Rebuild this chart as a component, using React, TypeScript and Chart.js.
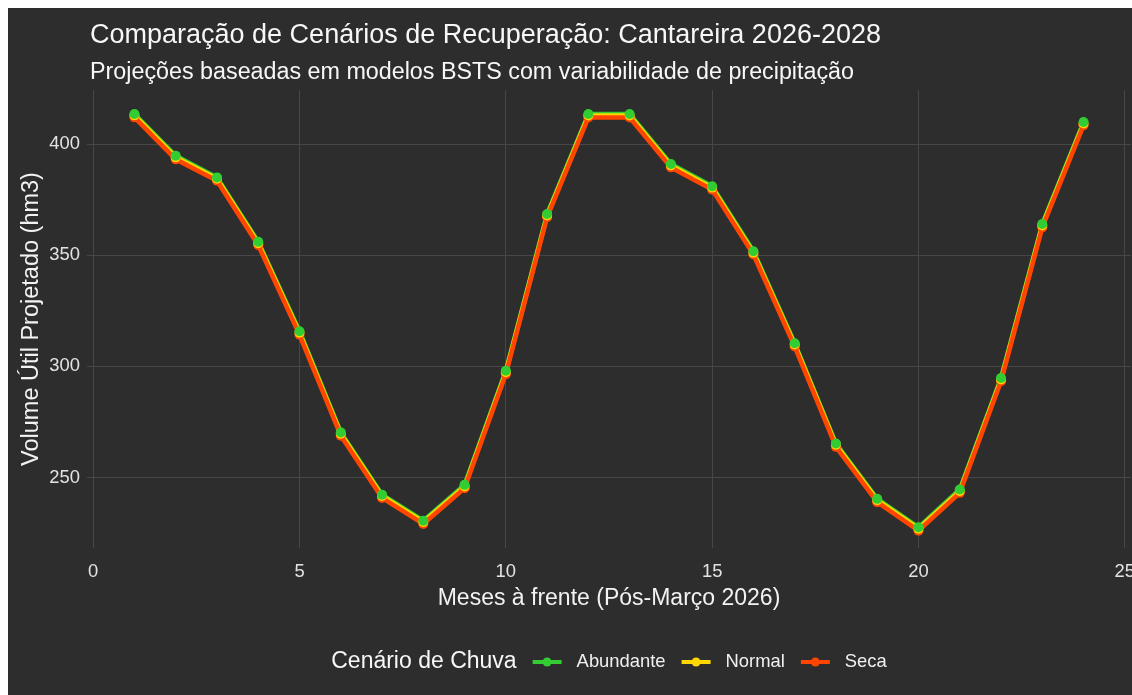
import React, { useEffect, useRef } from "react";
import { Chart, registerables } from "chart.js";

Chart.register(...registerables);

const months = [1, 2, 3, 4, 5, 6, 7, 8, 9, 10, 11, 12, 13, 14, 15, 16, 17, 18, 19, 20, 21, 22, 23, 24];
const abundante = [413.5, 394.7, 385.0, 356.0, 315.8, 270.3, 242.3, 230.6, 246.7, 298.0, 368.5, 413.5, 413.5, 391.0, 381.0, 351.8, 310.4, 265.3, 240.4, 227.6, 244.6, 294.8, 364.0, 409.9];
const normal = [412.9, 394.0, 384.4, 355.4, 315.1, 269.7, 241.7, 230.0, 246.0, 297.4, 367.9, 412.8, 412.8, 390.4, 380.4, 351.1, 309.8, 264.7, 239.8, 227.0, 243.9, 294.1, 363.4, 409.2];
const seca = [412.0, 393.1, 383.5, 354.5, 314.2, 268.8, 240.8, 229.1, 245.2, 296.5, 367.1, 411.9, 411.9, 389.5, 379.5, 350.3, 308.9, 263.8, 238.9, 226.1, 243.1, 293.3, 362.5, 408.4];

const seriesNames = ["Abundante", "Normal", "Seca"];
const seriesColors = ["#32CD32", "#FFD700", "#FF4500"];
const xTicks = [0, 5, 10, 15, 20, 25];
const yTicks = [250, 300, 350, 400];

const titleText = "Comparação de Cenários de Recuperação: Cantareira 2026-2028";
const subtitleText = "Projeções baseadas em modelos BSTS com variabilidade de precipitação";
const xTitle = "Meses à frente (Pós-Março 2026)";
const yTitle = "Volume Útil Projetado (hm3)";
const legendTitle = "Cenário de Chuva";

const FONT = "'Liberation Sans', Arial, sans-serif";
const BG = "#2d2d2d";
const GRID = "#474747";

export default function App() {
  const ref = useRef<HTMLCanvasElement | null>(null);

  useEffect(() => {
    const canvas = ref.current;
    if (!canvas) return;
    const seriesData = [abundante, normal, seca];

    const decor = {
      id: "decor",
      beforeDraw(chart: any) {
        const ctx = chart.ctx;
        ctx.save();
        ctx.fillStyle = BG;
        ctx.fillRect(0, 0, chart.width, chart.height);
        ctx.restore();
      },
      afterDraw(chart: any) {
        const ctx = chart.ctx;
        const left = chart.chartArea.left;
        ctx.save();
        ctx.textBaseline = "middle";
        ctx.textAlign = "left";
        ctx.fillStyle = "#f7f7f7";
        ctx.font = `27px ${FONT}`;
        ctx.fillText(titleText, left + 3, 28);
        ctx.font = `23.3px ${FONT}`;
        ctx.fillText(subtitleText, left + 3, 65);

        // legend
        const titleFont = `23px ${FONT}`;
        const labelFont = `18.4px ${FONT}`;
        const sw = 29;
        const gapTS = 16;
        const gapSL = 15;
        const gapLS = 16;
        ctx.font = titleFont;
        const tW = ctx.measureText(legendTitle).width;
        ctx.font = labelFont;
        const lW = seriesNames.map((n) => ctx.measureText(n).width);
        let total = tW + gapTS;
        lW.forEach((w, i) => {
          total += sw + gapSL + w + (i < lW.length - 1 ? gapLS : 0);
        });
        const cy = 654;
        let x = 601 - total / 2;
        ctx.font = titleFont;
        ctx.fillStyle = "#f7f7f7";
        ctx.fillText(legendTitle, x, cy);
        x += tW + gapTS;
        seriesNames.forEach((n, i) => {
          ctx.strokeStyle = seriesColors[i];
          ctx.lineWidth = 4;
          ctx.beginPath();
          ctx.moveTo(x, cy);
          ctx.lineTo(x + sw, cy);
          ctx.stroke();
          ctx.fillStyle = seriesColors[i];
          ctx.beginPath();
          ctx.arc(x + sw / 2, cy, 4.5, 0, Math.PI * 2);
          ctx.fill();
          x += sw + gapSL;
          ctx.font = labelFont;
          ctx.fillStyle = "#f0f0f0";
          ctx.fillText(n, x, cy);
          x += lW[i] + gapLS;
        });
        ctx.restore();
      },
    };

    // lines: Seca drawn on top of the lines; points: Abundante drawn on top of points
    const lineSets = seriesNames.map((name, i) => ({
      label: name,
      data: months.map((m, j) => ({ x: m, y: seriesData[i][j] })),
      borderColor: seriesColors[i],
      backgroundColor: seriesColors[i],
      borderWidth: 4.5,
      pointRadius: 0,
      pointHoverRadius: 0,
      tension: 0,
      fill: false,
      order: 5 - i,
    }));
    const pointSets = seriesNames.map((name, i) => ({
      label: name + " pontos",
      data: months.map((m, j) => ({ x: m, y: seriesData[i][j] })),
      borderColor: seriesColors[i],
      backgroundColor: seriesColors[i],
      showLine: false,
      pointRadius: 5,
      pointBorderWidth: 0,
      pointHoverRadius: 5,
      fill: false,
      order: i,
    }));

    const chart = new Chart(canvas, {
      type: "line",
      data: {
        datasets: [...lineSets, ...pointSets],
      },
      options: {
        animation: false,
        responsive: false,
        events: [],
        layout: { padding: { top: 82, bottom: 85, left: 0, right: 9 } },
        plugins: {
          legend: { display: false },
          tooltip: { enabled: false },
          title: { display: false },
        },
        scales: {
          x: {
            type: "linear",
            min: -0.15,
            max: 25.15,
            afterBuildTicks: (scale: any) => {
              scale.ticks = xTicks.map((v) => ({ value: v }));
            },
            afterFit: (scale: any) => {
              scale.height = 70;
              scale.paddingLeft = 0;
              scale.paddingRight = 0;
            },
            grid: { color: GRID, lineWidth: 1, drawTicks: false },
            border: { display: false },
            ticks: {
              color: "#e3e3e3",
              font: { family: FONT, size: 18.4 },
              padding: 13,
              maxRotation: 0,
              autoSkip: false,
            },
            title: {
              display: true,
              text: xTitle,
              color: "#f2f2f2",
              font: { family: FONT, size: 23 },
              padding: { top: 0, bottom: 6 },
            },
          },
          y: {
            type: "linear",
            min: 218.3,
            max: 424.3,
            afterBuildTicks: (scale: any) => {
              scale.ticks = yTicks.map((v) => ({ value: v }));
            },
            afterFit: (scale: any) => {
              scale.width = 79;
              scale.paddingTop = 0;
              scale.paddingBottom = 0;
            },
            grid: { color: GRID, lineWidth: 1, drawTicks: false },
            border: { display: false },
            ticks: {
              color: "#e3e3e3",
              font: { family: FONT, size: 18.4 },
              padding: 7,
            },
            title: {
              display: true,
              text: yTitle,
              color: "#f2f2f2",
              font: { family: FONT, size: 23.5 },
              padding: { top: 9, bottom: 0 },
            },
          },
        },
      },
      plugins: [decor],
    });

    return () => chart.destroy();
  }, []);

  return (
    <div style={{ position: "fixed", left: 8, top: 8, width: 1124, height: 687, overflow: "hidden" }}>
      <canvas ref={ref} width={1132} height={695} style={{ display: "block", width: 1132, height: 695 }} />
    </div>
  );
}
